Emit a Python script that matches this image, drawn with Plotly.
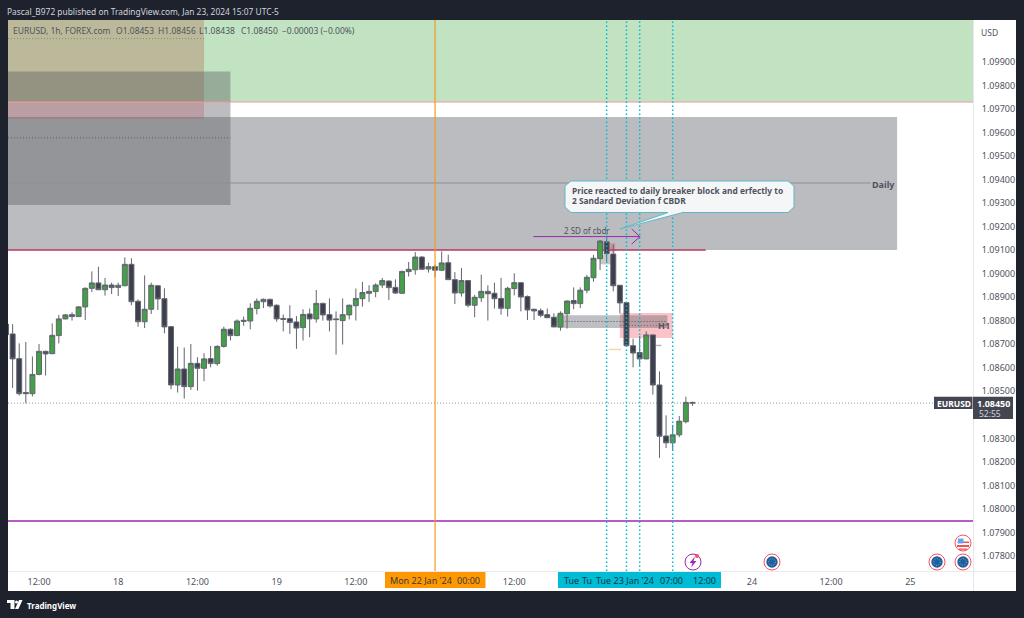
import plotly.graph_objects as go

# EURUSD 1h candles, bar_hours counts hours from 18 Jan 00:00 (weekend gap removed)
bar_hours = list(range(-17, 88))
opens = [
    1.08786, 1.08744, 1.08639, 1.08495, 1.08490, 1.08572, 1.08670, 1.08660, 1.08737, 1.08808,
    1.08826, 1.08818, 1.08859, 1.08938, 1.08961, 1.08932, 1.08952, 1.08942, 1.08949, 1.09040,
    1.08883, 1.08796, 1.08849, 1.08949, 1.08894, 1.08775, 1.08527, 1.08595, 1.08520, 1.08619,
    1.08598, 1.08639, 1.08618, 1.08691, 1.08764, 1.08737, 1.08802, 1.08799, 1.08852, 1.08881,
    1.08891, 1.08866, 1.08810, 1.08809, 1.08795, 1.08771, 1.08829, 1.08808, 1.08874, 1.08826,
    1.08808, 1.08801, 1.08825, 1.08864, 1.08894, 1.08917, 1.08924, 1.08952, 1.08969, 1.08942,
    1.08917, 1.09009, 1.09017, 1.09071, 1.09020, 1.09030, 1.09015, 1.09047, 1.08975, 1.08918,
    1.08971, 1.08866, 1.08898, 1.08925, 1.08917, 1.08895, 1.08853, 1.08937, 1.08962, 1.08903,
    1.08849, 1.08843, 1.08826, 1.08815, 1.08774, 1.08830, 1.08886, 1.08873, 1.08930, 1.08983,
    1.09064, 1.09136, 1.09084, 1.08951, 1.08877, 1.08694, 1.08665, 1.08638, 1.08740, 1.08527,
    1.08310, 1.08281, 1.08315, 1.08371, 1.08453,
]
highs = [
    1.08786, 1.08786, 1.08704, 1.08710, 1.08648, 1.08701, 1.08673, 1.08789, 1.08825, 1.08829,
    1.08836, 1.08863, 1.08942, 1.09010, 1.09030, 1.08982, 1.08962, 1.08962, 1.09070, 1.09066,
    1.08891, 1.08993, 1.08962, 1.08952, 1.08938, 1.08778, 1.08690, 1.08686, 1.08701, 1.08645,
    1.08662, 1.08693, 1.08696, 1.08775, 1.08768, 1.08806, 1.08818, 1.08874, 1.08895, 1.08895,
    1.08895, 1.08870, 1.08827, 1.08866, 1.08820, 1.08849, 1.08852, 1.08931, 1.08877, 1.08895,
    1.08840, 1.08895, 1.08869, 1.08937, 1.08965, 1.08951, 1.08959, 1.08982, 1.08972, 1.08976,
    1.09013, 1.09050, 1.09092, 1.09075, 1.09047, 1.09039, 1.09095, 1.09081, 1.09007, 1.09024,
    1.08973, 1.08910, 1.08996, 1.08951, 1.08962, 1.08982, 1.08945, 1.09002, 1.08962, 1.08908,
    1.08852, 1.08852, 1.08852, 1.08832, 1.08840, 1.08886, 1.08942, 1.08942, 1.08995, 1.09080,
    1.09143, 1.09155, 1.09124, 1.08951, 1.08877, 1.08724, 1.08735, 1.08755, 1.08741, 1.08585,
    1.08398, 1.08357, 1.08395, 1.08477, 1.08456,
]
lows = [
    1.08718, 1.08514, 1.08482, 1.08449, 1.08478, 1.08568, 1.08567, 1.08659, 1.08704, 1.08806,
    1.08801, 1.08816, 1.08803, 1.08922, 1.08931, 1.08907, 1.08914, 1.08905, 1.08948, 1.08866,
    1.08775, 1.08769, 1.08829, 1.08846, 1.08747, 1.08509, 1.08495, 1.08469, 1.08506, 1.08503,
    1.08543, 1.08602, 1.08609, 1.08686, 1.08716, 1.08735, 1.08779, 1.08764, 1.08827, 1.08854,
    1.08856, 1.08796, 1.08755, 1.08744, 1.08681, 1.08716, 1.08730, 1.08792, 1.08801, 1.08755,
    1.08656, 1.08699, 1.08806, 1.08801, 1.08860, 1.08880, 1.08900, 1.08939, 1.08888, 1.08914,
    1.08914, 1.08988, 1.08996, 1.09016, 1.09005, 1.08985, 1.09013, 1.08973, 1.08871, 1.08903,
    1.08857, 1.08815, 1.08880, 1.08801, 1.08852, 1.08826, 1.08818, 1.08908, 1.08840, 1.08803,
    1.08803, 1.08815, 1.08812, 1.08772, 1.08758, 1.08767, 1.08849, 1.08854, 1.08917, 1.08966,
    1.09016, 1.09051, 1.08925, 1.08832, 1.08690, 1.08602, 1.08608, 1.08636, 1.08486, 1.08217,
    1.08259, 1.08248, 1.08305, 1.08364, 1.08438,
]
closes = [
    1.08741, 1.08638, 1.08490, 1.08490, 1.08572, 1.08670, 1.08659, 1.08738, 1.08808, 1.08825,
    1.08818, 1.08859, 1.08938, 1.08961, 1.08932, 1.08952, 1.08941, 1.08951, 1.09040, 1.08881,
    1.08796, 1.08849, 1.08951, 1.08893, 1.08774, 1.08527, 1.08595, 1.08520, 1.08619, 1.08598,
    1.08638, 1.08618, 1.08691, 1.08764, 1.08737, 1.08799, 1.08798, 1.08853, 1.08883, 1.08891,
    1.08863, 1.08808, 1.08806, 1.08793, 1.08769, 1.08827, 1.08808, 1.08874, 1.08825, 1.08803,
    1.08805, 1.08826, 1.08866, 1.08895, 1.08920, 1.08925, 1.08952, 1.08971, 1.08941, 1.08918,
    1.09010, 1.09019, 1.09071, 1.09019, 1.09030, 1.09015, 1.09046, 1.08975, 1.08918, 1.08971,
    1.08866, 1.08900, 1.08925, 1.08915, 1.08894, 1.08853, 1.08938, 1.08962, 1.08901, 1.08846,
    1.08842, 1.08823, 1.08813, 1.08774, 1.08832, 1.08884, 1.08873, 1.08930, 1.08985, 1.09066,
    1.09139, 1.09084, 1.08949, 1.08876, 1.08694, 1.08663, 1.08638, 1.08740, 1.08527, 1.08309,
    1.08281, 1.08315, 1.08373, 1.08453, 1.08450,
]

# 1.08400 sits behind the last-price tag in the reference, so it is left out
price_ticks = [1.078, 1.079, 1.080, 1.081, 1.082, 1.083, 1.085, 1.086, 1.087, 1.088, 1.089,
               1.090, 1.091, 1.092, 1.093, 1.094, 1.095, 1.096, 1.097, 1.098, 1.099]
time_ticks = [-12, 0, 12, 24, 36, 60, 96, 108, 120]
time_labels = ["12:00", "18", "12:00", "19", "12:00", "12:00", "24", "12:00", "25"]

PLOT_L, PLOT_R, PLOT_T, PLOT_B = 8, 973, 20, 571
GREY_TEXT = "#50535e"
FONT = "Noto Sans"
FINE_DOT = "1px,2px"


def fx(x):
    return (x - PLOT_L) / (PLOT_R - PLOT_L)


def fy(y):
    return (PLOT_B - y) / (PLOT_B - PLOT_T)


def path_px(points, close=True):
    parts = [f"{'M' if i == 0 else 'L'} {fx(x):.5f} {fy(y):.5f}" for i, (x, y) in enumerate(points)]
    return " ".join(parts) + (" Z" if close else "")


def rect_px(x0, y0, x1, y1, color, layer="above", line=None):
    return dict(type="rect", xref="paper", yref="paper", x0=fx(x0), x1=fx(x1), y0=fy(y0), y1=fy(y1),
                fillcolor=color, line=dict(width=0) if line is None else line, layer=layer)


def circle_px(cx, cy, r, color, line=None):
    return dict(type="circle", xref="paper", yref="paper", x0=fx(cx - r), x1=fx(cx + r), y0=fy(cy - r), y1=fy(cy + r),
                fillcolor=color, line=dict(width=0) if line is None else line, layer="above")


def zone(h0, h1, p0, p1, color):
    return dict(type="rect", xref="x", yref="y", x0=h0, x1=h1, y0=p0, y1=p1, fillcolor=color, line=dict(width=0), layer="below")


def hline(h0, h1, p, color, width=1, dash="solid", layer="below"):
    return dict(type="line", xref="x", yref="y", x0=h0, x1=h1, y0=p, y1=p, line=dict(color=color, width=width, dash=dash), layer=layer)


def label(x, y, text, size=9, color=GREY_TEXT, anchor="center", bold=False):
    # annotations carry about 2px of padding on the anchored side
    if anchor == "left":
        x -= 2
    return dict(xref="paper", yref="paper", x=fx(x), y=fy(y), text=f"<b>{text}</b>" if bold else text, showarrow=False,
                xanchor=anchor, yanchor="middle", font=dict(family=FONT, size=size, color=color))


LEFT, RIGHT = -16.7, 129.5
shapes = [
    # frame panels
    rect_px(PLOT_R, PLOT_T, 1016, 591, "#ffffff", layer="below"),
    rect_px(PLOT_L, PLOT_B, 1016, 591, "#ffffff", layer="below"),
    # zones
    zone(LEFT, RIGHT, 1.0973, 1.10079, "rgba(76,175,80,0.35)"),
    zone(LEFT, 118, 1.09101, 1.09666, "rgba(119,121,130,0.5)"),
    zone(LEFT, 13, 1.0973, 1.10079, "rgba(170,60,30,0.25)"),
    zone(LEFT, 13, 1.09659, 1.0973, "rgba(235,50,70,0.25)"),
    zone(LEFT, 17, 1.09292, 1.09860, "rgba(90,90,95,0.4)"),
    zone(76, 84, 1.08727, 1.08833, "rgba(242,54,69,0.3)"),
    zone(66.4, 83.2, 1.08769, 1.08824, "rgba(110,112,120,0.45)"),
    zone(74, 75.3, 1.09090, 1.09130, "rgba(242,54,69,0.3)"),
    zone(73, 75, 1.09040, 1.09080, "rgba(119,121,130,0.4)"),
    # lines
    hline(LEFT, RIGHT, 1.0973, "#f29aa0"),
    hline(LEFT, 114, 1.09386, "#8d8e93"),
    hline(LEFT, 17, 1.09578, "#5d5e64", dash=FINE_DOT),
    hline(LEFT, 13, 1.10000, "#8b8a70", dash=FINE_DOT),
    hline(66.4, 83.2, 1.08797, "#55565c", dash=FINE_DOT),
    hline(76, 83.2, 1.08780, "#8d5a62", dash=FINE_DOT),
    hline(LEFT, 89, 1.09101, "#b8385f", width=1.5),
    hline(LEFT, RIGHT, 1.07949, "#9c27b0", width=1.5),
    hline(LEFT, 124, 1.0845, "#9598a1", dash=FINE_DOT),
    hline(74.3, 76.2, 1.08678, "#f7d9a8", width=1.5),
    hline(81, 82.3, 1.08695, "#b2b5be", width=1.5),
    # verticals
    dict(type="line", xref="x", yref="paper", x0=48, x1=48, y0=0, y1=1, line=dict(color="#f59a1b", width=1.2), layer="above"),
]
for h in (74, 77, 79, 84):
    shapes.append(dict(type="line", xref="x", yref="paper", x0=h, x1=h, y0=0, y1=1,
                       line=dict(color="#00bcd4", width=1.5, dash="1.5px,2.5px"), layer="above"))

shapes += [
    # 2 SD arrow
    hline(62.9, 79.1, 1.09158, "#9c27b0", layer="above"),
    dict(type="path", xref="paper", yref="paper", path=path_px([(631.7, 229), (640, 236.7), (631.7, 244)], close=False),
         line=dict(color="#9c27b0", width=1), layer="above"),
    # callout
    dict(type="path", xref="paper", yref="paper", fillcolor="#f5f6f7", line=dict(color="#5fb8c4", width=1), layer="above",
         path=path_px([(571, 181), (788, 181), (794, 186), (794, 207), (788, 212.5), (683, 212.5), (620, 229), (668, 212.5),
                        (571, 212.5), (565, 207), (565, 186)])),
    # axis borders and tag boxes
    rect_px(PLOT_L, 571, 1016, 571.8, "#e0e3eb"),
    rect_px(973, 20, 973.8, 591, "#e0e3eb"),
    rect_px(385, 572, 485.5, 588, "#ff9800"),
    rect_px(558, 572, 721, 588, "#00bcd4"),
    rect_px(934, 396.7, 972.5, 409, "#434651"),
    rect_px(973, 396.7, 1013, 419, "#434651"),
    # event icons
    circle_px(693, 562, 8, "#ffffff", dict(color="#9c27b0", width=1)),
    dict(type="path", xref="paper", yref="paper", fillcolor="#9c27b0", line=dict(width=0), layer="above",
         path=path_px([(695, 556.5), (689.5, 563), (692.5, 563), (691, 567.5), (696.5, 561), (693.5, 561)])),
    circle_px(697, 556, 2, "#f7525f"),
]
for cx, cy in [(772, 562), (937, 562), (963, 562)]:
    shapes.append(circle_px(cx, cy, 8, "#ffffff", dict(color="#f7525f", width=1)))
    shapes.append(circle_px(cx, cy, 5.7, "#1c5ea8"))
    shapes.append(circle_px(cx, cy, 3.3, "rgba(0,0,0,0)", dict(color="#c9b24a", width=1, dash="1px,1.5px")))
shapes += [
    circle_px(963, 543, 8, "#ffffff", dict(color="#f7525f", width=1)),
    rect_px(957, 545, 969, 547, "#ef5350"),
    rect_px(957.5, 541.5, 969, 543, "#ef5350"),
    rect_px(958, 538.5, 963.5, 543.5, "#64a5f0"),
    rect_px(959, 548.5, 967, 549.8, "#ef5350"),
    # logo
    rect_px(7, 600, 14.5, 603, "#ffffff"),
    rect_px(10.5, 603, 14.5, 609, "#ffffff"),
    circle_px(16.5, 602, 1.5, "#ffffff"),
    dict(type="path", xref="paper", yref="paper", fillcolor="#ffffff", line=dict(width=0), layer="above",
         path=path_px([(19, 600), (22.5, 600), (18.5, 609), (15, 609)])),
]

annotations = [
    label(7, 11, "Pascal_B972 published on TradingView.com, Jan 23, 2024 15:07 UTC-5", size=8.4, color="#d1d4dc", anchor="left"),
    label(13, 31, "EURUSD, 1h, FOREX.com", size=8.5, anchor="left"),
    label(116, 31, "O1.08453", size=8.5, anchor="left"),
    label(158, 31, "H1.08456", size=8.5, anchor="left"),
    label(199, 31, "L1.08438", size=8.5, anchor="left"),
    label(241, 31, "C1.08450", size=8.5, anchor="left"),
    label(282, 31, "\u22120.00003 (\u22120.00%)", size=8.5, anchor="left"),
    label(989, 32, "USD", size=8.5),
    label(883, 184, "Daily", size=9, bold=True),
    label(572, 191, "Price reacted to daily breaker block and erfectly to", size=8.4, anchor="left", bold=True),
    label(572, 200, "2 Sandard Deviation f CBDR", size=8.4, anchor="left", bold=True),
    label(587, 230.5, "2 SD of cbdr", size=8),
    label(664, 325.5, "H1", size=9, bold=True),
    label(421, 580, "Mon 22 Jan '24", size=9, color="#3a3a3a"),
    label(468, 580, "00:00", size=9, color="#3a3a3a"),
    label(571, 580, "Tue", size=9, color="#0b3a44"),
    label(587, 580, "Tu", size=9, color="#0b3a44"),
    label(625, 580, "Tue 23 Jan '24", size=9, color="#0b3a44"),
    label(671, 580, "07:00", size=9, color="#0b3a44"),
    label(704, 580, "12:00", size=9, color="#0b3a44"),
    label(953.5, 403, "EURUSD", size=8.5, color="#ffffff", bold=True),
    label(994, 403, "1.08450", size=9, color="#ffffff", bold=True),
    label(979, 413, "52:55", size=8.5, color="#d1d4dc", anchor="left"),
    label(27, 605, "TradingView", size=8, color="#ffffff", anchor="left", bold=True),
]

fig = go.Figure(go.Candlestick(
    x=bar_hours, open=opens, high=highs, low=lows, close=closes,
    increasing=dict(line=dict(color="#62656f", width=1), fillcolor="#43a047"),
    decreasing=dict(line=dict(color="#62656f", width=1), fillcolor="#3d3f4c"),
    whiskerwidth=0, hoverinfo="skip",
))
fig.update_layout(
    width=1024, height=618, showlegend=False,
    margin=dict(l=PLOT_L, r=1024 - PLOT_R, t=PLOT_T, b=618 - PLOT_B),
    paper_bgcolor="#1e222d", plot_bgcolor="#ffffff", boxgap=0.25, boxgroupgap=0,
    shapes=shapes, annotations=annotations,
    font=dict(family=FONT, size=9, color=GREY_TEXT),
)
fig.update_xaxes(range=[LEFT, RIGHT], rangeslider_visible=False, showgrid=False, zeroline=False,
                 tickmode="array", tickvals=time_ticks, ticktext=time_labels, showline=False,
                 ticks="outside", ticklen=2, tickcolor="rgba(0,0,0,0)")
fig.update_yaxes(range=[1.07736, 1.10079], side="right", showgrid=False, zeroline=False,
                 tickmode="array", tickvals=price_ticks, tickformat=".5f", ticks="outside", ticklen=6, tickcolor="rgba(0,0,0,0)",
                 showline=False, tickfont=dict(size=9, color=GREY_TEXT))

fig.write_html("out.html", config=dict(displayModeBar=False), post_script="document.body.style.margin='0';")
